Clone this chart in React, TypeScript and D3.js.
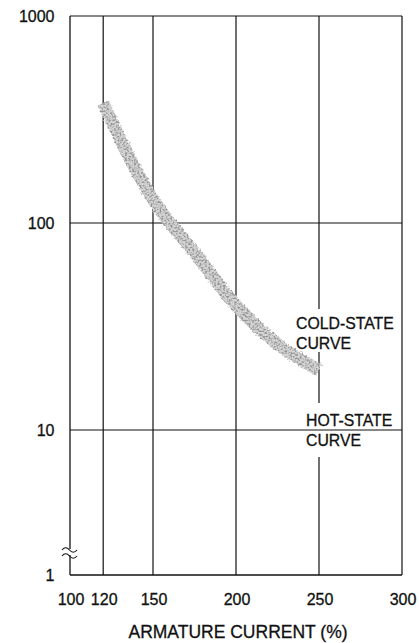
import React from "react";
import * as d3 from "d3";

// Armature current (% of rated) vs. allowable time, log scale on y
const xTickValues = [100, 120, 150, 200, 250, 300];
const yTickValues = [1, 10, 100, 1000];
const xGridValues = [120, 150, 200, 250];
const yGridValues = [10, 100];
const coldCurrent = [120, 135, 150, 175, 200, 225, 250];
const coldTime = [380, 213, 130, 72, 40, 26, 19.5];

const W = 419;
const H = 643;
const left = 70;
const right = 402;
const top = 16;
const bottom = 575;
const FONT = "'Liberation Sans', Arial, Helvetica, sans-serif";
const INK = "#111";

export default function App() {
  const x = d3.scaleLinear().domain([100, 300]).range([left, right]);
  // 10..1000 is a true log scale; the decade below 10 is broken and 1 sits at the baseline
  const yLog = d3.scaleLog().domain([10, 1000]).range([430, top]);
  const y = (v: number) => (v >= 10 ? yLog(v) : bottom);

  const pts: [number, number][] = coldCurrent.map((c, i) => [x(c), y(coldTime[i])]);
  const bandPath = d3.line().curve(d3.curveMonotoneX)(pts) || "";

  const breakY = [549, 555];
  const tilde = (yy: number) =>
    `M${left - 8},${yy + 1} q3.75,-4.5 7.5,0 t7.5,0`;

  const textInk = { fill: INK, stroke: INK, strokeWidth: 0.3 };

  return (
    <svg
      width={W}
      height={H}
      style={{ position: "absolute", left: 0, top: 0, background: "#fff" }}
      fontFamily={FONT}
    >
      <defs>
        <filter id="rough" filterUnits="userSpaceOnUse" x="0" y="0" width={W} height={H}>
          <feTurbulence type="fractalNoise" baseFrequency="0.45" numOctaves="1" seed="3" result="warp" />
          <feDisplacementMap in="SourceGraphic" in2="warp" scale="4" xChannelSelector="R" yChannelSelector="G" />
        </filter>
        <filter id="grain" filterUnits="userSpaceOnUse" x="0" y="0" width={W} height={H}>
          <feTurbulence type="fractalNoise" baseFrequency="0.45" numOctaves="1" seed="3" result="warp" />
          <feDisplacementMap in="SourceGraphic" in2="warp" scale="4" xChannelSelector="R" yChannelSelector="G" result="rough" />
          <feTurbulence type="fractalNoise" baseFrequency="0.55" numOctaves="1" seed="11" result="n" />
          <feColorMatrix
            in="n"
            type="matrix"
            values="0 0 0 0 0.3  0 0 0 0 0.3  0 0 0 0 0.3  4 0 0 0 -1.75"
            result="s"
          />
          <feComposite in="s" in2="rough" operator="in" />
        </filter>
      </defs>

      {/* vertical grid lines */}
      {xGridValues.map((v) => (
        <line key={`gx${v}`} x1={x(v)} x2={x(v)} y1={top} y2={bottom} stroke={INK} strokeWidth={1.2} />
      ))}

      {/* gaps in the 250 % line behind the curve labels */}
      <rect x={x(250) - 6} y={309} width={12} height={43} fill="#fff" />
      <rect x={x(250) - 6} y={403} width={12} height={54} fill="#fff" />

      {/* horizontal grid lines */}
      {yGridValues.map((v) => (
        <line key={`gy${v}`} x1={left} x2={right} y1={y(v)} y2={y(v)} stroke={INK} strokeWidth={1.2} />
      ))}

      {/* frame */}
      <line x1={left} x2={right} y1={top} y2={top} stroke={INK} strokeWidth={1.2} />
      <line x1={right} x2={right} y1={top} y2={bottom} stroke={INK} strokeWidth={1.2} />
      <line x1={left} x2={right} y1={bottom} y2={bottom} stroke={INK} strokeWidth={1.3} />
      <line x1={left} x2={left} y1={top} y2={breakY[0]} stroke={INK} strokeWidth={1.3} />
      <line x1={left} x2={left} y1={breakY[1]} y2={bottom} stroke={INK} strokeWidth={1.3} />
      {breakY.map((b) => (
        <path key={`br${b}`} d={tilde(b)} fill="none" stroke={INK} strokeWidth={1.1} />
      ))}

      {/* cold-state band: light base plus dark speckle */}
      <path d={bandPath} fill="none" stroke="#d4d4d4" strokeWidth={12.5} filter="url(#rough)" />
      <path d={bandPath} fill="none" stroke="#000" strokeWidth={12.5} filter="url(#grain)" />

      {/* y tick labels */}
      {yTickValues.map((v) => (
        <text key={`yt${v}`} x={54.5} y={y(v) + 5.5} textAnchor="end" fontSize={16} {...textInk}>
          {v}
        </text>
      ))}

      {/* x tick labels */}
      {xTickValues.map((v) => (
        <text key={`xt${v}`} x={x(v) + 1} y={604.5} textAnchor="middle" fontSize={16} {...textInk}>
          {v}
        </text>
      ))}

      <text x={238} y={637.5} textAnchor="middle" fontSize={17.5} {...textInk}>
        ARMATURE CURRENT (%)
      </text>

      {/* curve labels */}
      <text x={296} y={329} fontSize={15.8} {...textInk}>COLD-STATE</text>
      <text x={296} y={348.5} fontSize={15.8} {...textInk}>CURVE</text>
      <text x={306} y={426} fontSize={15.8} {...textInk}>HOT-STATE</text>
      <text x={306} y={446} fontSize={15.8} {...textInk}>CURVE</text>
    </svg>
  );
}
